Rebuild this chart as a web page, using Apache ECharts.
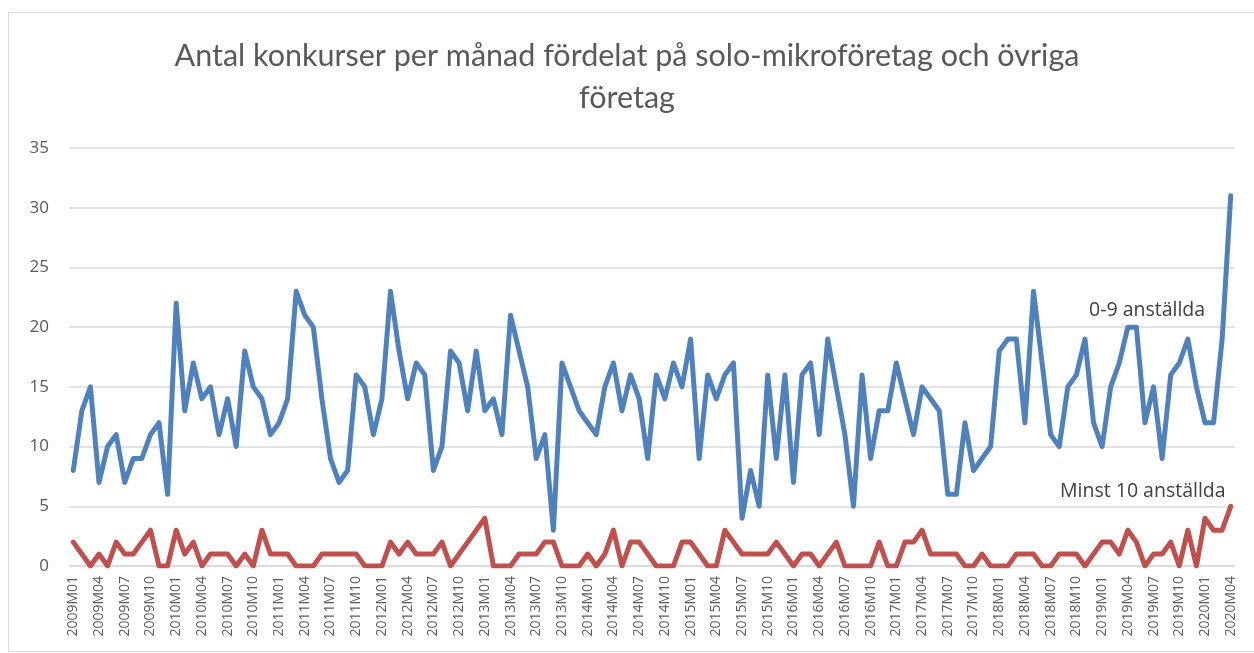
<!DOCTYPE html>
<html>
<head>
<meta charset="utf-8">
<script src="https://cdn.jsdelivr.net/npm/echarts@6/dist/echarts.min.js"></script>
<style>
  body { margin: 0; background: #fff; }
  #frame { position: absolute; left: 8px; top: 12px; width: 1260px; height: 638px; border: 1px solid #d9d9d9; }
  #c { position: absolute; left: 0; top: 0; width: 1254px; height: 653px; }
</style>
</head>
<body>
<div id="frame"></div>
<div id="c"></div>
<script>
// 2009M01 .. 2020M04
const years = [2009, 2010, 2011, 2012, 2013, 2014, 2015, 2016, 2017, 2018, 2019, 2020]
const lastMonth = 4
const months = []
years.forEach(y => {
  const n = y === 2020 ? lastMonth : 12
  for (let m = 1; m <= n; m++) months.push(y + 'M' + String(m).padStart(2, '0'))
})

// 0-9 anställda
const small = [
  8, 13, 15, 7, 10, 11, 7, 9, 9, 11, 12, 6,
  22, 13, 17, 14, 15, 11, 14, 10, 18, 15, 14, 11,
  12, 14, 23, 21, 20, 14, 9, 7, 8, 16, 15, 11,
  14, 23, 18, 14, 17, 16, 8, 10, 18, 17, 13, 18,
  13, 14, 11, 21, 18, 15, 9, 11, 3, 17, 15, 13,
  12, 11, 15, 17, 13, 16, 14, 9, 16, 14, 17, 15,
  19, 9, 16, 14, 16, 17, 4, 8, 5, 16, 9, 16,
  7, 16, 17, 11, 19, 15, 11, 5, 16, 9, 13, 13,
  17, 14, 11, 15, 14, 13, 6, 6, 12, 8, 9, 10,
  18, 19, 19, 12, 23, 17, 11, 10, 15, 16, 19, 12,
  10, 15, 17, 20, 20, 12, 15, 9, 16, 17, 19, 15,
  12, 12, 19, 31
]

// Minst 10 anställda
const large = [
  2, 1, 0, 1, 0, 2, 1, 1, 2, 3, 0, 0,
  3, 1, 2, 0, 1, 1, 1, 0, 1, 0, 3, 1,
  1, 1, 0, 0, 0, 1, 1, 1, 1, 1, 0, 0,
  0, 2, 1, 2, 1, 1, 1, 2, 0, 1, 2, 3,
  4, 0, 0, 0, 1, 1, 1, 2, 2, 0, 0, 0,
  1, 0, 1, 3, 0, 2, 2, 1, 0, 0, 0, 2,
  2, 1, 0, 0, 3, 2, 1, 1, 1, 1, 2, 1,
  0, 1, 1, 0, 1, 2, 0, 0, 0, 0, 2, 0,
  0, 2, 2, 3, 1, 1, 1, 1, 0, 0, 1, 0,
  0, 0, 1, 1, 1, 0, 0, 1, 1, 1, 0, 1,
  2, 2, 1, 3, 2, 0, 1, 1, 2, 0, 3, 0,
  4, 3, 3, 5
]

const yTicks = { min: 0, max: 35, interval: 5 }
const titleText = 'Antal konkurser per månad fördelat på solo-mikroföretag och övriga\nföretag'
const names = ['0-9 anställda', 'Minst 10 anställda']

const chart = echarts.init(document.getElementById('c'))
chart.setOption({
  animation: false,
  backgroundColor: 'transparent',
  title: {
    text: titleText,
    left: 'center',
    top: 30,
    textStyle: { fontFamily: 'Lato', fontSize: 30.5, fontWeight: 'normal', color: '#595959', lineHeight: 42 }
  },
  grid: { left: 69, right: 19, top: 148, height: 418 },
  xAxis: {
    type: 'category',
    data: months,
    boundaryGap: true,
    axisLine: { lineStyle: { color: '#d9d9d9', width: 1.5 } },
    axisTick: { show: false },
    axisLabel: { interval: 2, rotate: 90, fontFamily: 'Open Sans', fontSize: 14, color: '#595959', margin: 10 },
    splitLine: { show: false }
  },
  yAxis: {
    type: 'value',
    min: yTicks.min,
    max: yTicks.max,
    interval: yTicks.interval,
    axisLine: { show: false },
    axisTick: { show: false },
    axisLabel: { fontFamily: 'Open Sans', fontSize: 17, color: '#595959', margin: 20 },
    splitLine: { lineStyle: { color: '#d9d9d9', width: 1.5 } }
  },
  series: [
    {
      name: names[0],
      type: 'line',
      data: small,
      showSymbol: false,
      lineStyle: { color: '#4f81bd', width: 5, cap: 'round', join: 'round' },
      itemStyle: { color: '#4f81bd' }
    },
    {
      name: names[1],
      type: 'line',
      data: large,
      showSymbol: false,
      lineStyle: { color: '#c0504d', width: 5, cap: 'round', join: 'round' },
      itemStyle: { color: '#c0504d' }
    }
  ],
  graphic: [
    { type: 'text', left: 1089, top: 300, style: { text: names[0], fontFamily: 'Open Sans', fontSize: 19.5, fill: '#404040' } },
    { type: 'text', left: 1060, top: 481, style: { text: names[1], fontFamily: 'Open Sans', fontSize: 19.5, fill: '#404040' } }
  ]
})
</script>
</body>
</html>
